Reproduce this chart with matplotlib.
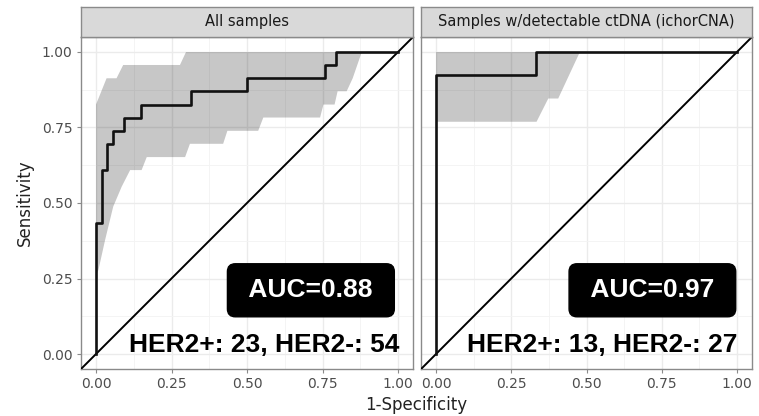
import numpy as np
import matplotlib
matplotlib.use("Agg")
import matplotlib.pyplot as plt
from matplotlib.ticker import MultipleLocator

# ---- data ----
panel_titles = ["All samples", "Samples w/detectable ctDNA (ichorCNA)"]
n_pos = [23, 13]
n_neg = [54, 27]
auc_labels = ["AUC=0.88", "AUC=0.97"]

# ROC vertices as counts (false positives, true positives), drawn as steps
all_fp = [0, 0, 1, 2, 3, 5, 8, 17, 27, 41, 43, 54]
all_tp = [0, 10, 14, 16, 17, 18, 19, 20, 21, 22, 23, 23]
ct_fp = [0, 0, 9, 27]
ct_tp = [0, 12, 13, 13]

# confidence band of sensitivity (upper / lower edges), x = 1 - specificity
all_hi_x = [0, 0.035, 0.068, 0.09, 0.278, 0.298, 0.88]
all_hi_y = [0.826, 0.913, 0.913, 0.957, 0.957, 1.0, 1.0]
all_lo_x = [0, 0.008, 0.03, 0.057, 0.085, 0.113, 0.151, 0.168, 0.295, 0.311,
            0.421, 0.435, 0.537, 0.554, 0.742, 0.753, 0.79, 0.80, 0.83, 0.85, 0.88]
all_lo_y = [0.26, 0.278, 0.377, 0.488, 0.554, 0.609, 0.609, 0.652, 0.652, 0.696,
            0.696, 0.739, 0.739, 0.783, 0.783, 0.826, 0.826, 0.870, 0.870, 0.913, 1.0]
ct_hi_x = [0, 0.478]
ct_hi_y = [1.0, 1.0]
ct_lo_x = [0, 0.334, 0.373, 0.406, 0.478]
ct_lo_y = [0.769, 0.769, 0.846, 0.846, 1.0]

ticks = [0.0, 0.25, 0.5, 0.75, 1.0]
tick_labels = ["0.00", "0.25", "0.50", "0.75", "1.00"]

W, H = 759, 416
fig = plt.figure(figsize=(W / 100, H / 100), dpi=100)

border = "#8a8a8a"
ann_font = ["Liberation Sans", "DejaVu Sans"]

panels = [
    (80.9, 413.1, all_fp, all_tp, all_hi_x, all_hi_y, all_lo_x, all_lo_y, 0.7115),
    (421.0, 752.0, ct_fp, ct_tp, ct_hi_x, ct_hi_y, ct_lo_x, ct_lo_y, 0.719),
]
top, bot, strip_top = 36.9, 369.1, 7.0

for i, (l, r, fp, tp, hx, hy, lx, ly, auc_x) in enumerate(panels):
    ax = fig.add_axes([l / W, (H - bot) / H, (r - l) / W, (bot - top) / H])
    ax.set_xlim(-0.05, 1.05)
    ax.set_ylim(-0.05, 1.05)

    ax.xaxis.set_major_locator(MultipleLocator(0.25))
    ax.yaxis.set_major_locator(MultipleLocator(0.25))
    ax.xaxis.set_minor_locator(MultipleLocator(0.125))
    ax.yaxis.set_minor_locator(MultipleLocator(0.125))
    ax.grid(which="major", color="#ebebeb", lw=1.0)
    ax.grid(which="minor", color="#f3f3f3", lw=0.6)
    ax.set_axisbelow(True)
    ax.tick_params(which="minor", length=0)
    ax.tick_params(which="major", length=3, width=0.8, color=border,
                   labelsize=10, labelcolor="#4d4d4d", pad=3)
    ax.set_xticks(ticks)
    ax.set_xticklabels(tick_labels)
    if i == 0:
        ax.set_yticks(ticks)
        ax.set_yticklabels(tick_labels)
    else:
        ax.set_yticks(ticks)
        ax.tick_params(axis="y", which="both", left=False, labelleft=False)
    for s in ax.spines.values():
        s.set_color(border)
        s.set_linewidth(1.0)

    # confidence band
    poly_x = list(hx) + list(lx[::-1])
    poly_y = list(hy) + list(ly[::-1])
    ax.fill(poly_x, poly_y, color="black", alpha=0.22, lw=0, zorder=2)

    # chance diagonal
    ax.axline((0, 0), (1, 1), color="black", lw=1.4, zorder=3)

    # ROC curve
    fpr = np.array(fp) / n_neg[i]
    tpr = np.array(tp) / n_pos[i]
    ax.plot(fpr, tpr, drawstyle="steps-post", color="#111111", lw=1.9, zorder=4)

    ax.text(auc_x, 0.211, " " + auc_labels[i] + " ", ha="center", va="center",
            fontsize=19, fontweight="bold", color="white", family=ann_font,
            bbox=dict(boxstyle="round,pad=0.55,rounding_size=0.3",
                      fc="black", ec="black"), zorder=5)
    ax.text(1.003, 0.006, f"HER2+: {n_pos[i]}, HER2-: {n_neg[i]}",
            ha="right", va="baseline", fontsize=19, fontweight="bold",
            color="black", family=ann_font, zorder=5)

    # facet strip
    sax = fig.add_axes([l / W, (H - top) / H, (r - l) / W, (top - strip_top) / H])
    sax.set_facecolor("#d9d9d9")
    sax.set_xticks([])
    sax.set_yticks([])
    for s in sax.spines.values():
        s.set_color(border)
        s.set_linewidth(1.0)
    sax.text(0.5, 0.5, panel_titles[i], ha="center", va="center",
             fontsize=10.5, color="#1a1a1a", transform=sax.transAxes)

fig.text(416.5 / W, (H - 405) / H, "1-Specificity", ha="center", va="center",
         fontsize=12, color="#222222")
fig.text(25 / W, (H - 203) / H, "Sensitivity", ha="center", va="center",
         rotation=90, fontsize=12, color="#222222")

fig.savefig("out.png", dpi=100, facecolor="white")
